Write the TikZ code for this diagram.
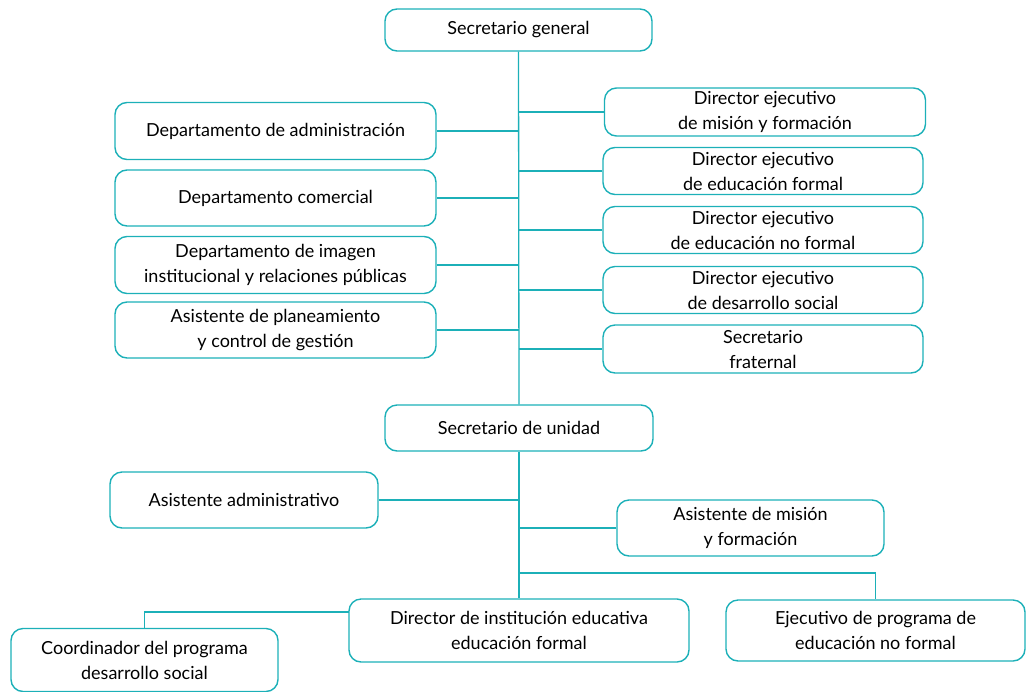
\documentclass[tikz,border=0pt]{standalone}
\usepackage{fontspec}
\setmainfont{Lato}
\usepackage{tikz}
\definecolor{turq}{RGB}{28,176,184}

\begin{document}
\begin{tikzpicture}[x=1pt,y=-1pt]
\tikzstyle{box}=[draw=turq,line width=1.4pt,rounded corners=12pt,align=center,inner sep=0pt,font=\fontsize{18}{25}\selectfont]
\tikzstyle{link}=[draw=turq,line width=1.3pt]
\useasboundingbox (0,0) rectangle (1027,691);

% cabeza
\path (518.5,30) node[box,minimum width=267pt,minimum height=42pt](sg){Secretario general};

% departamentos, izquierda
\path (275.5,131) node[box,minimum width=321pt,minimum height=57pt](da){Departamento de administración}
      (275.5,198) node[box,minimum width=321pt,minimum height=56pt](dc){Departamento comercial}
      (275.5,265) node[box,minimum width=321pt,minimum height=57pt](di){Departamento de imagen\\institucional y relaciones públicas}
      (275.5,330) node[box,minimum width=321pt,minimum height=56pt](ap){Asistente de planeamiento\\y control de gestión};

% directores, derecha
\path (765,112) node[box,minimum width=321pt,minimum height=48pt](d1){Director ejecutivo\\de misión y formación}
      (763,171) node[box,minimum width=320pt,minimum height=47pt](d2){Director ejecutivo\\de educación formal}
      (763,230) node[box,minimum width=320pt,minimum height=47pt](d3){Director ejecutivo\\de educación no formal}
      (763,290) node[box,minimum width=320pt,minimum height=47pt](d4){Director ejecutivo\\de desarrollo social}
      (763,349) node[box,minimum width=320pt,minimum height=48pt](sf){Secretario\\fraternal};

% unidad
\path (519,428) node[box,minimum width=268pt,minimum height=46pt](su){Secretario de unidad};
\path (244,500) node[box,minimum width=268pt,minimum height=56pt](aa){Asistente administrativo}
      (750.5,528) node[box,minimum width=267pt,minimum height=56pt](am){Asistente de misión\\y formación};
\path (519,630.5) node[box,minimum width=340pt,minimum height=63pt](de){Director de institución educativa\\educación formal}
      (875.5,630.5) node[box,minimum width=299pt,minimum height=61pt](ep){Ejecutivo de programa de\\educación no formal}
      (144.5,660) node[box,minimum width=267pt,minimum height=63pt](cp){Coordinador del programa\\desarrollo social};

\coordinate (jn) at (518.5,573);
\coordinate (jc) at (349,612);

% tronco
\draw[link] (sg.south) -- (su.north);
\draw[link] (sg.south |- da) -- (da.east);
\draw[link] (sg.south |- dc) -- (dc.east);
\draw[link] (sg.south |- di) -- (di.east);
\draw[link] (sg.south |- ap) -- (ap.east);
\draw[link] (sg.south |- d1) -- (d1.west);
\draw[link] (sg.south |- d2) -- (d2.west);
\draw[link] (sg.south |- d3) -- (d3.west);
\draw[link] (sg.south |- d4) -- (d4.west);
\draw[link] (sg.south |- sf) -- (sf.west);

\draw[link] (su.south) -- (de.north);
\draw[link] (su.south |- aa) -- (aa.east);
\draw[link] (su.south |- am) -- (am.west);
\draw[link] (jn) -| (ep.north);
\draw[link] (jc) -| (cp.north);
\end{tikzpicture}
\end{document}
